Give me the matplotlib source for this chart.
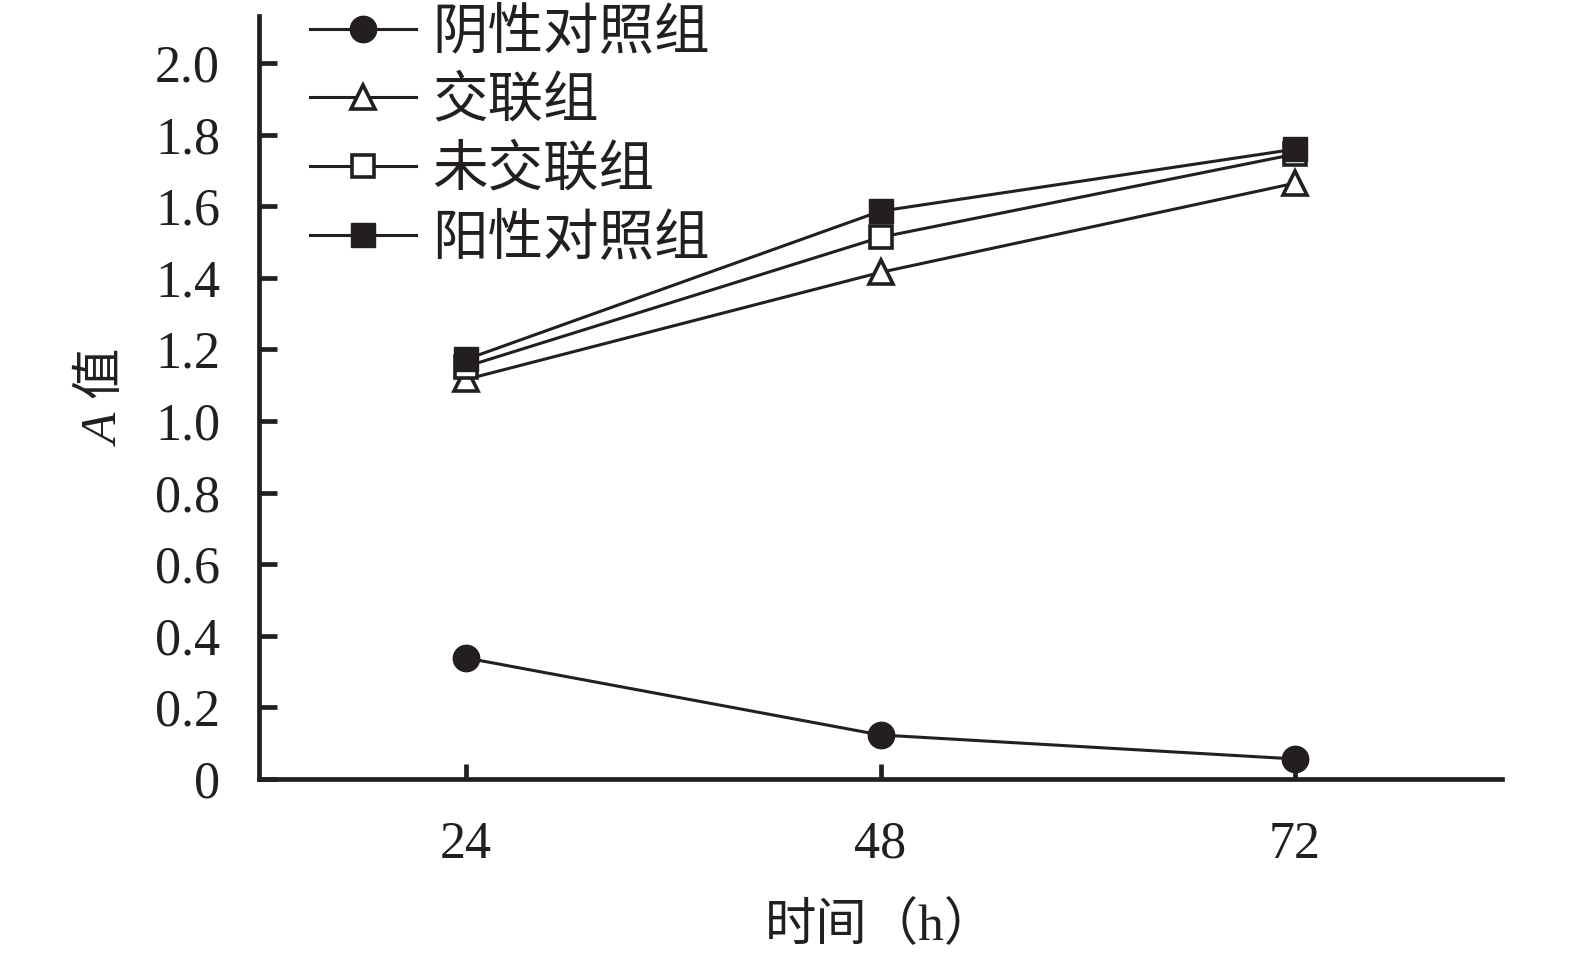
import matplotlib
matplotlib.use("Agg")
import matplotlib.pyplot as plt

# ==================================================
# DATA
# ==================================================
hours = [24, 48, 72]
neg_ctrl = [0.338, 0.123, 0.056]      # 阴性对照组
crosslinked = [1.116, 1.415, 1.664]   # 交联组
uncrosslinked = [1.152, 1.513, 1.745] # 未交联组
pos_ctrl = [1.172, 1.586, 1.759]      # 阳性对照组

labels = ["阴性对照组", "交联组", "未交联组", "阳性对照组"]
y_ticks = [0, 0.2, 0.4, 0.6, 0.8, 1.0, 1.2, 1.4, 1.6, 1.8, 2.0]
y_tick_labels = ["0", "0.2", "0.4", "0.6", "0.8", "1.0", "1.2", "1.4", "1.6", "1.8", "2.0"]

# ==================================================
# STYLE
# ==================================================
plt.rcParams["font.family"] = ["Liberation Serif", "Noto Sans CJK SC"]
plt.rcParams["mathtext.fontset"] = "custom"
plt.rcParams["mathtext.it"] = "Liberation Serif:italic"
plt.rcParams["mathtext.rm"] = "Noto Sans CJK SC"

INK = "#231f20"
LW = 2.2

fig = plt.figure(figsize=(15.75, 9.67), dpi=100)
ax = fig.add_axes([259 / 1575, 1 - 779 / 967, (1502 - 259) / 1575, (779 - 16) / 967])

ax.plot(hours, neg_ctrl, color=INK, lw=LW, marker="o", ms=19,
        mfc=INK, mec=INK, label=labels[0], zorder=3)
ax.plot(hours, crosslinked, color=INK, lw=LW, marker="^", ms=17,
        mfc="white", mec=INK, mew=2.6, label=labels[1], zorder=3)
ax.plot(hours, uncrosslinked, color=INK, lw=LW, marker="s", ms=16,
        mfc="white", mec=INK, mew=2.6, label=labels[2], zorder=4)
ax.plot(hours, pos_ctrl, color=INK, lw=LW, marker="s", ms=17,
        mfc=INK, mec=INK, label=labels[3], zorder=5)

ax.set_xlim(12, 84)
ax.set_ylim(0, 2.131)
ax.set_xticks(hours)
ax.set_xticklabels([str(h) for h in hours])
ax.set_yticks(y_ticks)
ax.set_yticklabels(y_tick_labels)

for side in ["top", "right"]:
    ax.spines[side].set_visible(False)
for side in ["left", "bottom"]:
    ax.spines[side].set_linewidth(3.4)
    ax.spines[side].set_color(INK)

ax.tick_params(axis="both", direction="in", width=3.4, color=INK,
               labelsize=37.5, labelcolor=INK)
ax.tick_params(axis="y", length=13, pad=28)
ax.tick_params(axis="x", length=11, pad=30)

ax.set_xlabel("时间（h）", fontsize=37, color=INK, labelpad=24)
ax.set_ylabel(r"$A\ \mathrm{值}$", fontsize=37, color=INK, labelpad=20)

leg = ax.legend(loc="upper left", bbox_to_anchor=(310 / 1575, 1 - 8 / 967),
                bbox_transform=fig.transFigure, frameon=False, fontsize=40,
                handlelength=1.9, handletextpad=0.3, labelspacing=0.3,
                borderpad=0, borderaxespad=0)
for t in leg.get_texts():
    t.set_color(INK)

fig.savefig("out.png", dpi=100)
